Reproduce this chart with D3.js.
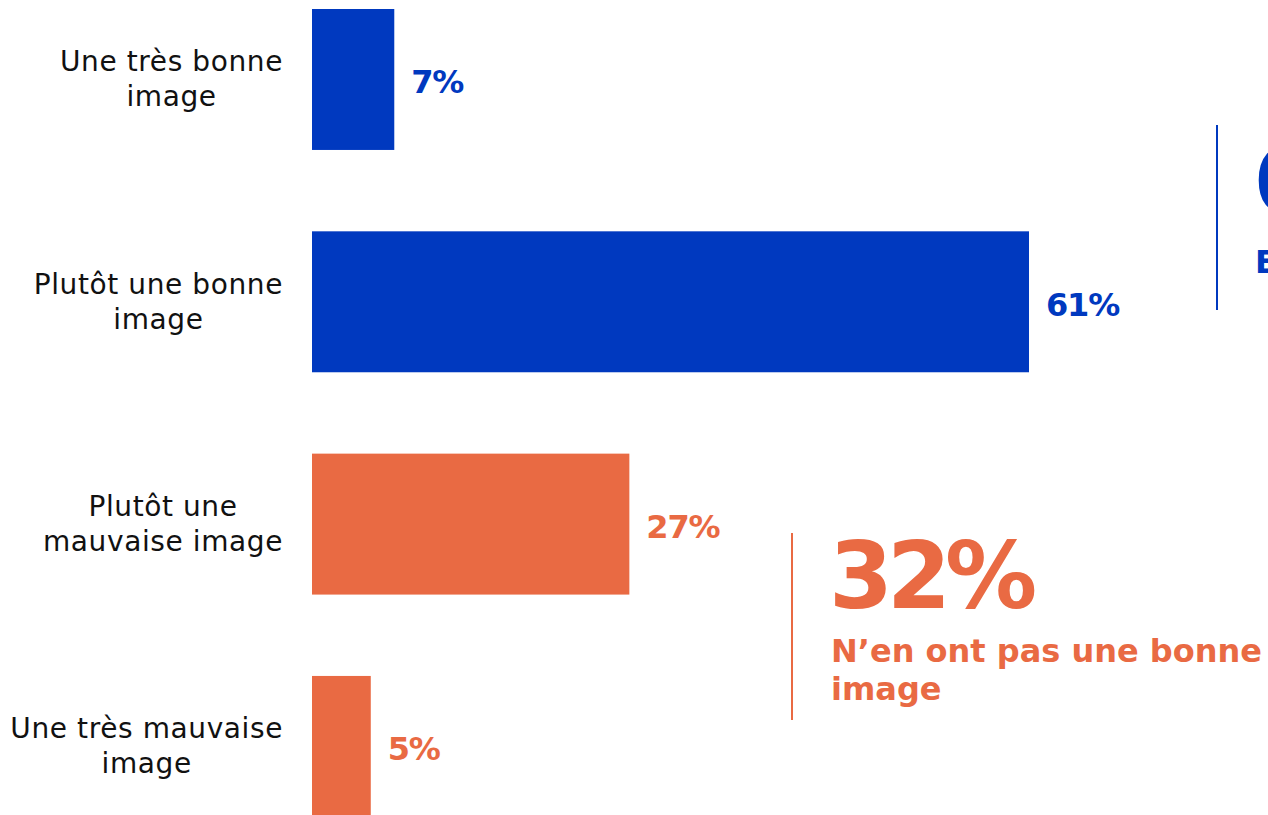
<!DOCTYPE html>
<html>
<head>
<meta charset="utf-8">
<script src="https://cdn.jsdelivr.net/npm/d3@7"></script>
<style>
  html, body { margin: 0; padding: 0; background: #fff; overflow: hidden; }
  svg { display: block; }
</style>
</head>
<body>
<svg id="chart" width="1268" height="815"></svg>
<script>
// ---- data ----
const categories = [
  ["Une très bonne", "image"],
  ["Plutôt une bonne", "image"],
  ["Plutôt une", "mauvaise image"],
  ["Une très mauvaise", "image"]
];
const values = [7, 61, 27, 5];
const groups = ["positive", "positive", "negative", "negative"];
const summaryValues = [68, 32];
const summaryLabels = [["En ont une bonne image"], ["N’en ont pas une bonne", "image"]];

// ---- style ----
const BLUE = "#0039BF";
const ORANGE = "#E96A43";
const colorOf = g => g === "positive" ? BLUE : ORANGE;
const FONT = "'DejaVu Sans', 'Open Sans', sans-serif";

const svg = d3.select("#chart");

const x = d3.scaleLinear().domain([0, 61]).range([312, 1029]);
const y = d3.scaleBand()
  .domain(d3.range(categories.length))
  .range([9, 9 + 4 * 222.3 - 81.3])
  .paddingInner(0.366)
  .paddingOuter(0);

const rows = svg.append("g").selectAll("g.row")
  .data(values.map((v, i) => ({v, i, g: groups[i], cat: categories[i]})))
  .join("g").attr("class", "row");

rows.append("rect")
  .attr("x", x(0))
  .attr("y", d => y(d.i))
  .attr("width", d => x(d.v) - x(0))
  .attr("height", y.bandwidth())
  .attr("fill", d => colorOf(d.g));

rows.append("text")
  .attr("x", d => x(d.v) + 17)
  .attr("y", d => y(d.i) + y.bandwidth() / 2 + 14)
  .attr("fill", d => colorOf(d.g))
  .style("font-family", FONT)
  .style("font-weight", "bold")
  .style("font-size", "32px")
  .style("letter-spacing", "-1.2px")
  .text(d => d.v + "%");

// category labels: centered block, right-aligned at x=283
rows.each(function(d) {
  const g = d3.select(this);
  const cy = y(d.i) + y.bandwidth() / 2;
  const texts = g.selectAll("text.cat").data(d.cat).join("text")
    .attr("class", "cat")
    .attr("y", (t, k) => cy - 8 + k * 35)
    .attr("fill", "#111")
    .style("font-family", FONT)
    .style("font-size", "28px")
    .style("letter-spacing", "0.6px")
    .attr("text-anchor", "middle")
    .text(t => t);
  let maxW = 0;
  texts.each(function() { maxW = Math.max(maxW, this.getComputedTextLength()); });
  texts.attr("x", 283 - maxW / 2);
});

// summary annotations
const summaries = [
  {v: summaryValues[0], lines: summaryLabels[0], color: BLUE, lx: 1217, ly0: 125, ly1: 310, tx: 1253, numY: 213, subY: 273},
  {v: summaryValues[1], lines: summaryLabels[1], color: ORANGE, lx: 792, ly0: 533, ly1: 720, tx: 829, numY: 608, subY: 662}
];
const sg = svg.append("g").selectAll("g").data(summaries).join("g");
sg.append("line")
  .attr("x1", d => d.lx).attr("x2", d => d.lx)
  .attr("y1", d => d.ly0).attr("y2", d => d.ly1)
  .attr("stroke", d => d.color).attr("stroke-width", 2);
sg.append("text")
  .attr("x", d => d.tx).attr("y", d => d.numY)
  .attr("fill", d => d.color)
  .style("font-family", FONT).style("font-weight", "bold")
  .style("font-size", "92px")
  .style("letter-spacing", "-6px")
  .text(d => d.v + "%");
sg.each(function(d) {
  d3.select(this).selectAll("text.sub").data(d.lines).join("text")
    .attr("class", "sub")
    .attr("x", d.tx + 2)
    .attr("y", (t, k) => d.subY + k * 38)
    .attr("fill", d.color)
    .style("font-family", FONT).style("font-weight", "bold")
    .style("font-size", "32px")
    .text(t => t);
});
</script>
</body>
</html>
